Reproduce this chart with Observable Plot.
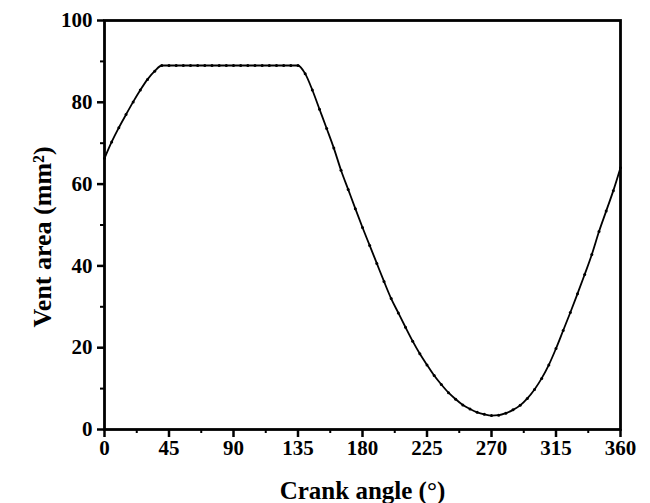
<!DOCTYPE html>
<html>
<head>
<meta charset="utf-8">
<script src="https://cdn.jsdelivr.net/npm/d3@7"></script>
<script src="https://cdn.jsdelivr.net/npm/@observablehq/plot@0.6"></script>
<style>
  html, body { margin: 0; padding: 0; background: #fff; }
  #chart svg { display: block; }
</style>
</head>
<body>
<div id="chart"></div>
<script>
// Crank angle (degrees), sampled every 5°
const crankAngle = [
  0, 5, 10, 15, 20, 25, 30, 35, 40, 45, 50, 55, 60, 65, 70, 75, 80, 85, 90,
  95, 100, 105, 110, 115, 120, 125, 130, 135, 140, 145, 150, 155, 160, 165, 170, 175, 180,
  185, 190, 195, 200, 205, 210, 215, 220, 225, 230, 235, 240, 245, 250, 255, 260, 265, 270,
  275, 280, 285, 290, 295, 300, 305, 310, 315, 320, 325, 330, 335, 340, 345, 350, 355, 360
];

// Vent area (mm²) at each crank angle
const ventArea = [
  66.3, 70.3, 73.8, 77.0, 80.1, 83.0, 85.6, 87.6, 89.0, 89.0, 89.0, 89.0, 89.0, 89.0, 89.0, 89.0, 89.0, 89.0, 89.0,
  89.0, 89.0, 89.0, 89.0, 89.0, 89.0, 89.0, 89.0, 89.0, 87.0, 83.0, 78.3, 73.6, 68.8, 63.4, 58.7, 54.0, 49.4,
  45.0, 40.6, 36.2, 32.0, 28.5, 25.0, 21.6, 18.5, 15.8, 13.2, 11.0, 9.0, 7.4, 6.0, 5.0, 4.2, 3.7, 3.4,
  3.5, 4.0, 4.8, 5.9, 7.6, 9.8, 12.5, 15.8, 19.8, 24.2, 28.6, 33.2, 37.9, 42.8, 48.4, 53.4, 58.4, 64.0
];

// Axis ticks
const xMajorTicks = [0, 45, 90, 135, 180, 225, 270, 315, 360];
const xMinorTicks = [22.5, 67.5, 112.5, 157.5, 202.5, 247.5, 292.5, 337.5];
const yMajorTicks = [0, 20, 40, 60, 80, 100];
const yMinorTicks = [10, 30, 50, 70, 90];

const data = crankAngle.map((a, i) => ({angle: a, area: ventArea[i]}));

const chart = Plot.plot({
  width: 650,
  height: 503,
  marginLeft: 104,
  marginRight: 30,
  marginTop: 20,
  marginBottom: 74,
  style: {
    fontFamily: "'Liberation Serif', 'Times New Roman', serif",
    fontWeight: "bold",
    fontSize: "21px",
    color: "#000",
    background: "#fff"
  },
  x: {domain: [0, 360]},
  y: {domain: [0, 100]},
  marks: [
    Plot.axisX({ticks: xMinorTicks, tickSize: 4, strokeWidth: 2, text: null, label: null}),
    Plot.axisX({ticks: xMajorTicks, tickSize: 8, strokeWidth: 2.5, tickPadding: 3, fontSize: 21, label: null}),
    Plot.axisY({ticks: yMinorTicks, tickSize: 4, strokeWidth: 2, text: null, label: null}),
    Plot.axisY({ticks: yMajorTicks, tickSize: 7, strokeWidth: 2.5, tickPadding: 5, fontSize: 21, label: null}),
    Plot.frame({stroke: "#000", strokeWidth: 2.8}),
    Plot.line(data, {x: "angle", y: "area", stroke: "#000", strokeWidth: 1.8, curve: "monotone-x"}),
    Plot.dot(data, {x: "angle", y: "area", r: 1.5, fill: "#000", stroke: "none"}),
    Plot.text(["Crank angle (°)"], {
      frameAnchor: "bottom", dy: 69, lineAnchor: "bottom", textAnchor: "middle",
      fontSize: 25, fontWeight: "bold", fill: "#000"
    }),
    Plot.text(["Vent area (mm²)"], {
      frameAnchor: "left", dx: -62, dy: 12, rotate: -90, textAnchor: "middle",
      fontSize: 26, fontWeight: "bold", fill: "#000"
    })
  ]
});

document.getElementById("chart").append(chart);
</script>
</body>
</html>
